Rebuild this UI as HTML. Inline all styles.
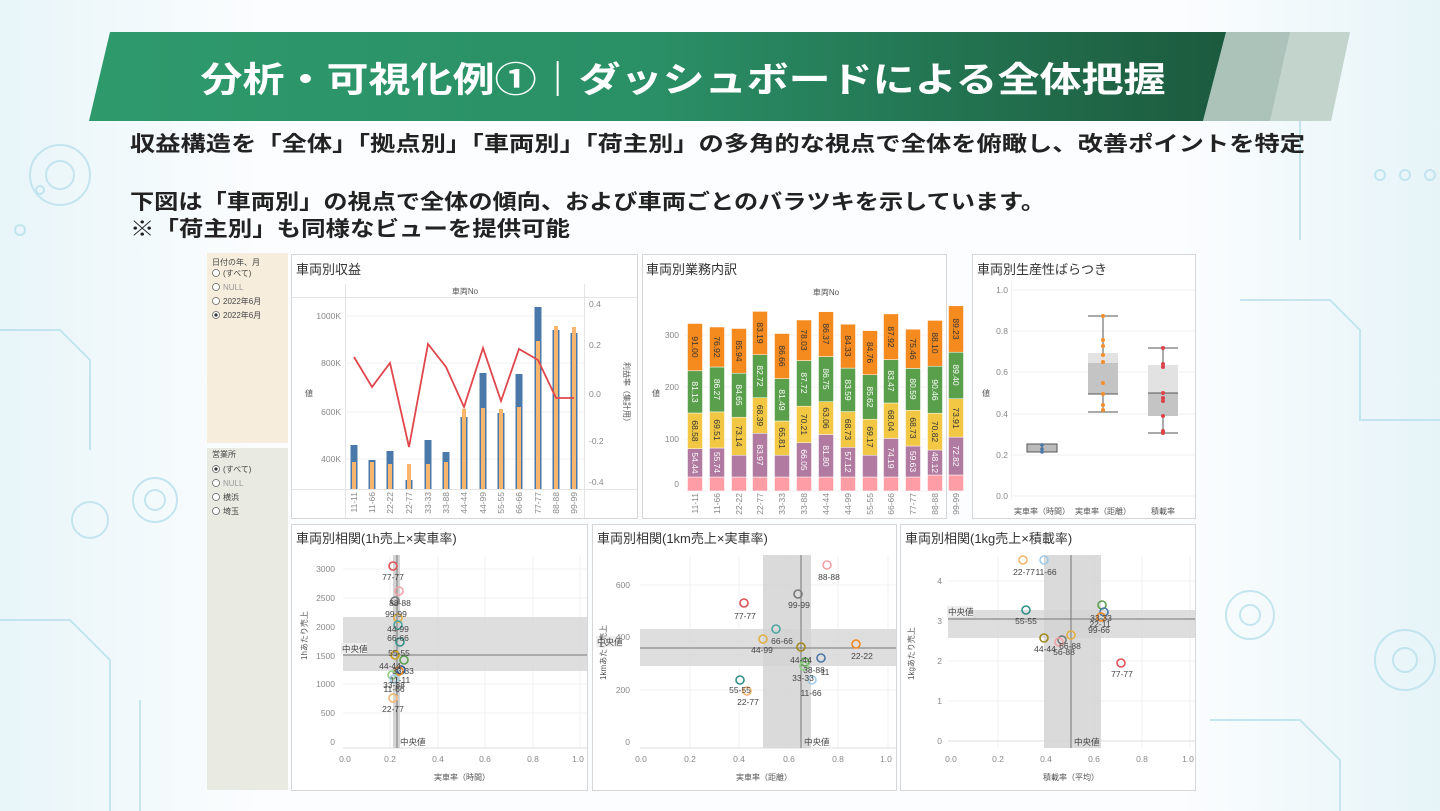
<!DOCTYPE html>
<html><head><meta charset="utf-8"><style>
html,body{margin:0;padding:0;width:1440px;height:811px;overflow:hidden;background:#fff}
svg{display:block}
text{font-family:"Liberation Sans","Noto Sans CJK JP",sans-serif}
.t{font-size:13px;fill:#333}
.tk{font-size:8.5px;fill:#888}
.sm{font-size:8px;fill:#555}
.lb{font-size:8.5px;fill:#444}
.sl{font-size:8.5px;text-anchor:middle;dominant-baseline:central}
</style></head><body>
<svg width="1440" height="811" viewBox="0 0 1440 811" xmlns="http://www.w3.org/2000/svg">
<defs>
<linearGradient id="bg" x1="0" y1="0" x2="1" y2="0">
<stop offset="0" stop-color="#e8f5f9"/><stop offset="0.18" stop-color="#fbfdfe"/><stop offset="0.82" stop-color="#fbfdfe"/><stop offset="1" stop-color="#e6f4f8"/></linearGradient>
<linearGradient id="gr" x1="0" y1="0" x2="1" y2="0">
<stop offset="0" stop-color="#2e9a6c"/><stop offset="0.5" stop-color="#2a8f66"/><stop offset="1" stop-color="#1c5a3e"/></linearGradient>
</defs>
<rect width="1440" height="811" fill="url(#bg)"/>
<g fill="none" stroke="#b9e0ec" stroke-width="2" opacity="0.8">
<circle cx="20" cy="230" r="5"/><circle cx="40" cy="190" r="4"/><circle cx="60" cy="175" r="30"/><circle cx="60" cy="175" r="14"/>
<circle cx="155" cy="500" r="22"/><circle cx="155" cy="500" r="10"/><circle cx="90" cy="520" r="18"/>
<path d="M0 330 H60 L90 360 V450 M0 620 H70 L110 660 V811 M140 700 V811"/>
<circle cx="1380" cy="175" r="5"/><circle cx="1405" cy="175" r="5"/><circle cx="1430" cy="175" r="5"/>
<circle cx="1250" cy="615" r="24"/><circle cx="1250" cy="615" r="10"/><circle cx="1405" cy="660" r="30"/><circle cx="1405" cy="660" r="12"/>
<path d="M1240 300 H1330 L1360 330 V420 H1440 M1210 720 H1300 L1340 760 V811 M1300 120 V240"/>
<circle cx="1290" cy="95" r="4"/><circle cx="1310" cy="95" r="4"/>
</g>
<!-- banner -->
<polygon points="1226,32 1350,32 1331,121 1203,121" fill="#9fb8ae" opacity="0.85"/>
<polygon points="1290,32 1350,32 1331,121 1270,121" fill="#c9d8d2" opacity="0.8"/>
<polygon points="110,32 1226,32 1203,121 89,121" fill="url(#gr)"/>
<text x="683" y="92" text-anchor="middle" font-size="35" font-weight="bold" fill="#fff" textLength="965" lengthAdjust="spacingAndGlyphs">分析・可視化例①｜ダッシュボードによる全体把握</text>
<text x="130" y="151" font-size="21" font-weight="bold" fill="#222" textLength="1175" lengthAdjust="spacingAndGlyphs">収益構造を「全体」「拠点別」「車両別」「荷主別」の多角的な視点で全体を俯瞰し、改善ポイントを特定</text>
<text x="130" y="209" font-size="21" font-weight="bold" fill="#222" textLength="915" lengthAdjust="spacingAndGlyphs">下図は「車両別」の視点で全体の傾向、および車両ごとのバラツキを示しています。</text>
<text x="130" y="236" font-size="21" font-weight="bold" fill="#222" textLength="440" lengthAdjust="spacingAndGlyphs">※「荷主別」も同様なビューを提供可能</text>

<!-- filter panels -->
<rect x="207" y="253" width="81" height="190" fill="#f6eddc"/>
<rect x="207" y="448" width="81" height="342" fill="#e9eae2"/>
<g font-size="8" fill="#444">
<text x="212" y="265">日付の年、月</text>
<circle cx="216" cy="273" r="3.5" fill="#fff" stroke="#666" stroke-width="0.8"/><text x="223" y="276">(すべて)</text>
<circle cx="216" cy="287" r="3.5" fill="#fff" stroke="#666" stroke-width="0.8"/><text x="223" y="290" fill="#999">NULL</text>
<circle cx="216" cy="301" r="3.5" fill="#fff" stroke="#666" stroke-width="0.8"/><text x="223" y="304">2022年6月</text>
<circle cx="216" cy="315" r="3.5" fill="#fff" stroke="#666" stroke-width="0.8"/><circle cx="216" cy="315" r="1.6" fill="#333"/><text x="223" y="318">2022年6月</text>
<text x="212" y="457">営業所</text>
<circle cx="216" cy="469" r="3.5" fill="#fff" stroke="#666" stroke-width="0.8"/><circle cx="216" cy="469" r="1.6" fill="#333"/><text x="223" y="472">(すべて)</text>
<circle cx="216" cy="483" r="3.5" fill="#fff" stroke="#666" stroke-width="0.8"/><text x="223" y="486" fill="#999">NULL</text>
<circle cx="216" cy="497" r="3.5" fill="#fff" stroke="#666" stroke-width="0.8"/><text x="223" y="500">横浜</text>
<circle cx="216" cy="511" r="3.5" fill="#fff" stroke="#666" stroke-width="0.8"/><text x="223" y="514">埼玉</text>
</g>

<!-- panel frames -->
<g fill="#fff" stroke="#d6d6d6">
<rect x="291.5" y="254.5" width="346" height="264"/>
<rect x="642.5" y="254.5" width="304" height="264"/>
<rect x="972.5" y="254.5" width="223" height="264"/>
<rect x="291.5" y="524.5" width="296" height="266"/>
<rect x="592.5" y="524.5" width="304" height="266"/>
<rect x="900.5" y="524.5" width="295" height="266"/>
</g>

<!-- Panel 1 -->
<text x="296" y="274" class="t">車両別収益</text>
<g stroke="#e4e4e4" stroke-width="1">
<line x1="292" y1="297.5" x2="637" y2="297.5"/><line x1="292" y1="489.5" x2="637" y2="489.5"/>
<line x1="345.5" y1="284" x2="345.5" y2="518"/><line x1="584.5" y1="284" x2="584.5" y2="518"/>
<line x1="346" y1="316" x2="584" y2="316" stroke="#f2f2f2"/><line x1="346" y1="363" x2="584" y2="363" stroke="#f2f2f2"/><line x1="346" y1="412" x2="584" y2="412" stroke="#f2f2f2"/><line x1="346" y1="459" x2="584" y2="459" stroke="#f2f2f2"/>
</g>
<text x="465" y="294" class="sm" text-anchor="middle">車両No</text>
<g class="tk" text-anchor="end"><text x="341" y="319">1000K</text><text x="341" y="366">800K</text><text x="341" y="415">600K</text><text x="341" y="462">400K</text></g>
<g class="tk"><text x="589" y="307">0.4</text><text x="589" y="348">0.2</text><text x="589" y="397">0.0</text><text x="589" y="444">-0.2</text><text x="589" y="485">-0.4</text></g>
<text x="305" y="396" class="sm">値</text>
<text transform="translate(624,362) rotate(90)" class="sm">利益率（集計用）</text>
<g fill="#4a78a8">
<rect x="350.5" y="445" width="7" height="44"/><rect x="368.5" y="460" width="7" height="29"/><rect x="386.5" y="451" width="7" height="38"/><rect x="405.5" y="480" width="7" height="9"/><rect x="424.5" y="440" width="7" height="49"/><rect x="442.5" y="452" width="7" height="37"/><rect x="460.5" y="417" width="7" height="72"/><rect x="479.5" y="373" width="7" height="116"/><rect x="497.5" y="413" width="7" height="76"/><rect x="515.5" y="374" width="7" height="115"/><rect x="534.5" y="307" width="7" height="182"/><rect x="552.5" y="330" width="7" height="159"/><rect x="570.5" y="333" width="7" height="156"/>
</g>
<g fill="#f8b56e">
<rect x="352" y="462" width="4" height="27"/><rect x="370" y="462" width="4" height="27"/><rect x="388" y="464" width="4" height="25"/><rect x="407" y="464" width="4" height="25"/><rect x="426" y="464" width="4" height="25"/><rect x="444" y="462" width="4" height="27"/><rect x="462" y="409" width="4" height="80"/><rect x="481" y="408" width="4" height="81"/><rect x="499" y="409" width="4" height="80"/><rect x="517" y="407" width="4" height="82"/><rect x="536" y="341" width="4" height="148"/><rect x="554" y="326" width="4" height="163"/><rect x="572" y="327" width="4" height="162"/>
</g>
<polyline points="354,357 372,387 390,363 409,447 428,344 446,367 464,407 483,348 501,401 519,349 538,360 556,398 574,398" fill="none" stroke="#e0474c" stroke-width="1.8"/>
<g class="tk" text-anchor="end">
<text transform="translate(357,492) rotate(-90)">11-11</text><text transform="translate(375,492) rotate(-90)">11-66</text><text transform="translate(393,492) rotate(-90)">22-22</text><text transform="translate(412,492) rotate(-90)">22-77</text><text transform="translate(431,492) rotate(-90)">33-33</text><text transform="translate(449,492) rotate(-90)">33-88</text><text transform="translate(467,492) rotate(-90)">44-44</text><text transform="translate(486,492) rotate(-90)">44-99</text><text transform="translate(504,492) rotate(-90)">55-55</text><text transform="translate(522,492) rotate(-90)">66-66</text><text transform="translate(541,492) rotate(-90)">77-77</text><text transform="translate(559,492) rotate(-90)">88-88</text><text transform="translate(577,492) rotate(-90)">99-99</text>
</g>

<!-- Panel 2 -->
<text x="646" y="274" class="t">車両別業務内訳</text>
<text x="826" y="295" class="sm" text-anchor="middle">車両No</text>
<g stroke="#f0f0f0"><line x1="684" y1="335" x2="946" y2="335"/><line x1="684" y1="387" x2="946" y2="387"/><line x1="684" y1="439" x2="946" y2="439"/><line x1="684" y1="491" x2="946" y2="491"/></g>
<g class="tk" text-anchor="end"><text x="679" y="338">300</text><text x="679" y="390">200</text><text x="679" y="442">100</text><text x="679" y="487">0</text></g>
<text x="652" y="396" class="sm">値</text>
<g stroke="#fff" stroke-width="0.5">
<g fill="#ff9da7"><rect x="687.5" y="477" width="15" height="14"/><rect x="709.5" y="477" width="15" height="14"/><rect x="731.5" y="477" width="15" height="14"/><rect x="752.5" y="477" width="15" height="14"/><rect x="774.5" y="477" width="15" height="14"/><rect x="796.5" y="477" width="15" height="14"/><rect x="818.5" y="477" width="15" height="14"/><rect x="840.5" y="477" width="15" height="14"/><rect x="862.5" y="477" width="15" height="14"/><rect x="883.5" y="477" width="15" height="14"/><rect x="905.5" y="477" width="15" height="14"/><rect x="927.5" y="475" width="15" height="16"/><rect x="948.5" y="475" width="15" height="16"/></g>
<g fill="#b07aa1"><rect x="687.5" y="448.7" width="15" height="28.3"/><rect x="709.5" y="448" width="15" height="29"/><rect x="731.5" y="455.2" width="15" height="21.8"/><rect x="752.5" y="433.3" width="15" height="43.7"/><rect x="774.5" y="455.2" width="15" height="21.8"/><rect x="796.5" y="442.7" width="15" height="34.3"/><rect x="818.5" y="434.5" width="15" height="42.5"/><rect x="840.5" y="447.3" width="15" height="29.7"/><rect x="862.5" y="455.2" width="15" height="21.8"/><rect x="883.5" y="438.4" width="15" height="38.6"/><rect x="905.5" y="446" width="15" height="31"/><rect x="927.5" y="450" width="15" height="25"/><rect x="948.5" y="437.1" width="15" height="37.9"/></g>
<g fill="#f1c744"><rect x="687.5" y="413" width="15" height="35.7"/><rect x="709.5" y="411.9" width="15" height="36.1"/><rect x="731.5" y="417.2" width="15" height="38"/><rect x="752.5" y="397.7" width="15" height="35.6"/><rect x="774.5" y="421" width="15" height="34.2"/><rect x="796.5" y="406.2" width="15" height="36.5"/><rect x="818.5" y="401.7" width="15" height="32.8"/><rect x="840.5" y="411.6" width="15" height="35.7"/><rect x="862.5" y="419.2" width="15" height="36"/><rect x="883.5" y="403" width="15" height="35.4"/><rect x="905.5" y="410.3" width="15" height="35.7"/><rect x="927.5" y="413.2" width="15" height="36.8"/><rect x="948.5" y="398.7" width="15" height="38.4"/></g>
<g fill="#5aa04c"><rect x="687.5" y="370.8" width="15" height="42.2"/><rect x="709.5" y="367" width="15" height="44.9"/><rect x="731.5" y="373.2" width="15" height="44"/><rect x="752.5" y="354.7" width="15" height="43"/><rect x="774.5" y="378.6" width="15" height="42.4"/><rect x="796.5" y="360.6" width="15" height="45.6"/><rect x="818.5" y="356.6" width="15" height="45.1"/><rect x="840.5" y="368.1" width="15" height="43.5"/><rect x="862.5" y="374.7" width="15" height="44.5"/><rect x="883.5" y="359.6" width="15" height="43.4"/><rect x="905.5" y="368.4" width="15" height="41.9"/><rect x="927.5" y="366.2" width="15" height="47"/><rect x="948.5" y="352.2" width="15" height="46.5"/></g>
<g fill="#f58a1f"><rect x="687.5" y="323.5" width="15" height="47.3"/><rect x="709.5" y="327" width="15" height="40"/><rect x="731.5" y="328.5" width="15" height="44.7"/><rect x="752.5" y="311.4" width="15" height="43.3"/><rect x="774.5" y="333.5" width="15" height="45.1"/><rect x="796.5" y="320" width="15" height="40.6"/><rect x="818.5" y="311.7" width="15" height="44.9"/><rect x="840.5" y="324.2" width="15" height="43.9"/><rect x="862.5" y="330.6" width="15" height="44.1"/><rect x="883.5" y="313.9" width="15" height="45.7"/><rect x="905.5" y="329.2" width="15" height="39.2"/><rect x="927.5" y="320.4" width="15" height="45.8"/><rect x="948.5" y="305.8" width="15" height="46.4"/></g>
</g>
<g class="sl" fill="#fff">
<text transform="translate(695,463) rotate(90)">54.44</text><text transform="translate(717,462.5) rotate(90)">55.74</text><text transform="translate(760,455) rotate(90)">83.97</text><text transform="translate(804,460) rotate(90)">66.05</text><text transform="translate(826,456) rotate(90)">81.80</text><text transform="translate(848,462) rotate(90)">57.12</text><text transform="translate(891,458) rotate(90)">74.19</text><text transform="translate(913,461.5) rotate(90)">59.63</text><text transform="translate(935,462.5) rotate(90)">48.12</text><text transform="translate(956,456) rotate(90)">72.82</text>
<text transform="translate(695,392) rotate(90)">81.13</text><text transform="translate(717,389.5) rotate(90)">86.27</text><text transform="translate(739,395) rotate(90)">84.65</text><text transform="translate(760,376) rotate(90)">82.72</text><text transform="translate(782,400) rotate(90)">81.49</text><text transform="translate(804,383) rotate(90)">87.72</text><text transform="translate(826,379) rotate(90)">86.75</text><text transform="translate(848,390) rotate(90)">83.59</text><text transform="translate(870,397) rotate(90)">85.62</text><text transform="translate(891,381) rotate(90)">83.47</text><text transform="translate(913,389) rotate(90)">80.59</text><text transform="translate(935,390) rotate(90)">90.46</text><text transform="translate(956,375) rotate(90)">89.40</text>
</g>
<g class="sl" fill="#333">
<text transform="translate(695,431) rotate(90)">68.58</text><text transform="translate(717,430) rotate(90)">69.51</text><text transform="translate(739,436) rotate(90)">73.14</text><text transform="translate(760,415.5) rotate(90)">68.39</text><text transform="translate(782,438) rotate(90)">65.81</text><text transform="translate(804,424.5) rotate(90)">70.21</text><text transform="translate(826,418) rotate(90)">63.06</text><text transform="translate(848,429.5) rotate(90)">68.73</text><text transform="translate(870,437) rotate(90)">69.17</text><text transform="translate(891,420.7) rotate(90)">68.04</text><text transform="translate(913,428) rotate(90)">68.73</text><text transform="translate(935,431.6) rotate(90)">70.82</text><text transform="translate(956,418) rotate(90)">73.91</text>
<text transform="translate(695,347) rotate(90)">91.00</text><text transform="translate(717,347) rotate(90)">76.92</text><text transform="translate(739,351) rotate(90)">85.94</text><text transform="translate(760,333) rotate(90)">83.19</text><text transform="translate(782,356) rotate(90)">86.66</text><text transform="translate(804,340) rotate(90)">78.03</text><text transform="translate(826,334) rotate(90)">86.37</text><text transform="translate(848,346) rotate(90)">84.33</text><text transform="translate(870,352.6) rotate(90)">84.76</text><text transform="translate(891,337) rotate(90)">87.92</text><text transform="translate(913,349) rotate(90)">75.46</text><text transform="translate(935,343) rotate(90)">88.10</text><text transform="translate(956,329) rotate(90)">89.23</text>
</g>
<g class="tk" text-anchor="end">
<text transform="translate(698,493) rotate(-90)">11-11</text><text transform="translate(720,493) rotate(-90)">11-66</text><text transform="translate(742,493) rotate(-90)">22-22</text><text transform="translate(763,493) rotate(-90)">22-77</text><text transform="translate(785,493) rotate(-90)">33-33</text><text transform="translate(807,493) rotate(-90)">33-88</text><text transform="translate(829,493) rotate(-90)">44-44</text><text transform="translate(851,493) rotate(-90)">44-99</text><text transform="translate(873,493) rotate(-90)">55-55</text><text transform="translate(894,493) rotate(-90)">66-66</text><text transform="translate(916,493) rotate(-90)">77-77</text><text transform="translate(938,493) rotate(-90)">88-88</text><text transform="translate(959,493) rotate(-90)">99-99</text>
</g>

<!-- Panel 3 -->
<text x="977" y="274" class="t">車両別生産性ばらつき</text>
<g stroke="#f0f0f0"><line x1="1011" y1="290" x2="1195" y2="290"/><line x1="1011" y1="331" x2="1195" y2="331"/><line x1="1011" y1="372" x2="1195" y2="372"/><line x1="1011" y1="414" x2="1195" y2="414"/><line x1="1011" y1="455" x2="1195" y2="455"/><line x1="1011" y1="496" x2="1195" y2="496"/><line x1="1011.5" y1="282" x2="1011.5" y2="500"/></g>
<g class="tk" text-anchor="end"><text x="1008" y="293">1.0</text><text x="1008" y="334">0.8</text><text x="1008" y="375">0.6</text><text x="1008" y="417">0.4</text><text x="1008" y="458">0.2</text><text x="1008" y="499">0.0</text></g>
<text x="982" y="396" class="sm">値</text>
<g stroke="#555" stroke-width="1">
<rect x="1027" y="444" width="30" height="8" fill="#bbb"/><line x1="1042" y1="443" x2="1042" y2="453"/>
<line x1="1103" y1="316" x2="1103" y2="412"/>
<rect x="1088" y="353" width="30" height="10" fill="#e2e2e2" stroke="none"/><rect x="1088" y="363" width="30" height="31" fill="#c4c4c4" stroke="none"/>
<line x1="1088" y1="316" x2="1118" y2="316"/><line x1="1088" y1="412" x2="1118" y2="412"/><line x1="1088" y1="394" x2="1118" y2="394"/>
<line x1="1163" y1="348" x2="1163" y2="433"/>
<rect x="1148" y="365" width="30" height="28" fill="#e2e2e2" stroke="none"/><rect x="1148" y="393" width="30" height="23" fill="#c4c4c4" stroke="none"/>
<line x1="1148" y1="348" x2="1178" y2="348"/><line x1="1148" y1="433" x2="1178" y2="433"/><line x1="1148" y1="393" x2="1178" y2="393"/>
</g>
<g fill="#4a78a8"><circle cx="1042" cy="445" r="1.8"/><circle cx="1042" cy="449" r="1.8"/><circle cx="1042" cy="452" r="1.8"/></g>
<g fill="#f28e2b"><circle cx="1103" cy="316" r="2"/><circle cx="1103" cy="340" r="2"/><circle cx="1103" cy="346" r="2"/><circle cx="1103" cy="355" r="2"/><circle cx="1103" cy="362" r="2"/><circle cx="1103" cy="383" r="2"/><circle cx="1103" cy="394" r="2"/><circle cx="1103" cy="405" r="2"/><circle cx="1103" cy="410" r="2"/></g>
<g fill="#d9434a"><circle cx="1163" cy="348" r="2"/><circle cx="1163" cy="364" r="2"/><circle cx="1163" cy="367" r="2"/><circle cx="1163" cy="393" r="2"/><circle cx="1163" cy="398" r="2"/><circle cx="1163" cy="401" r="2"/><circle cx="1163" cy="416" r="2"/><circle cx="1163" cy="431" r="2"/><circle cx="1163" cy="433" r="2"/></g>
<g class="sm" text-anchor="middle" font-size="7.5"><text x="1042" y="514">実車率（時間）</text><text x="1103" y="514">実車率（距離）</text><text x="1163" y="514">積載率</text></g>

<!-- Panel A -->
<text x="296" y="543" class="t">車両別相関(1h売上×実車率)</text>
<g stroke="#f0f0f0"><line x1="343" y1="569" x2="587" y2="569"/><line x1="343" y1="598" x2="587" y2="598"/><line x1="343" y1="627" x2="587" y2="627"/><line x1="343" y1="656" x2="587" y2="656"/><line x1="343" y1="684" x2="587" y2="684"/><line x1="343" y1="713" x2="587" y2="713"/><line x1="390" y1="555" x2="390" y2="748"/><line x1="438" y1="555" x2="438" y2="748"/><line x1="485" y1="555" x2="485" y2="748"/><line x1="533" y1="555" x2="533" y2="748"/><line x1="580" y1="555" x2="580" y2="748"/><line x1="343" y1="748" x2="587" y2="748" stroke="#ddd"/></g>
<rect x="343" y="617" width="244" height="54" fill="#d8d8d8" opacity="0.85"/>
<rect x="393" y="555" width="7" height="193" fill="#cfcfcf" opacity="0.9"/>
<line x1="343" y1="655" x2="587" y2="655" stroke="#777"/><line x1="397" y1="555" x2="397" y2="748" stroke="#777"/>
<rect x="341" y="643" width="26" height="11" fill="#eee"/><text x="342" y="652" class="lb">中央値</text>
<text x="400" y="745" class="lb">中央値</text>
<g class="tk" text-anchor="end"><text x="335" y="572">3000</text><text x="335" y="601">2500</text><text x="335" y="630">2000</text><text x="335" y="659">1500</text><text x="335" y="687">1000</text><text x="335" y="716">500</text><text x="335" y="745">0</text></g>
<g class="tk" text-anchor="middle"><text x="345" y="762">0.0</text><text x="390" y="762">0.2</text><text x="438" y="762">0.4</text><text x="485" y="762">0.6</text><text x="533" y="762">0.8</text><text x="578" y="762">1.0</text></g>
<text x="462" y="780" class="sm" text-anchor="middle">実車率（時間）</text>
<text transform="translate(307,660) rotate(-90)" class="sm">1hあたり売上</text>
<g fill="none" stroke-width="1.6">
<circle cx="393" cy="566" r="4" stroke="#e05257"/><circle cx="399" cy="591" r="4" stroke="#f4a0a5"/><circle cx="395" cy="601" r="4" stroke="#777"/><circle cx="398" cy="618" r="4" stroke="#e0b040"/><circle cx="398" cy="625" r="4" stroke="#4aa6a0"/><circle cx="400" cy="642" r="4" stroke="#2f8f88"/><circle cx="395" cy="655" r="4" stroke="#c9a11c"/><circle cx="404" cy="660" r="4" stroke="#5aa04c"/><circle cx="401" cy="670" r="4" stroke="#2f5c9a"/><circle cx="399" cy="671" r="4" stroke="#f08a20"/><circle cx="392" cy="675" r="4" stroke="#8fcf84"/><circle cx="394" cy="679" r="4" stroke="#9fcbe6"/><circle cx="393" cy="698" r="4" stroke="#f8b56e"/>
</g>
<g class="lb" text-anchor="middle"><text x="393" y="580">77-77</text><text x="400" y="606">88-88</text><text x="396" y="617">99-99</text><text x="398" y="632">44-99</text><text x="398" y="641">66-66</text><text x="399" y="656">55-55</text><text x="390" y="669">44-44</text><text x="403" y="674">33-33</text><text x="400" y="683">11-11</text><text x="394" y="688">33-88</text><text x="394" y="692">11-66</text><text x="393" y="712">22-77</text></g>

<!-- Panel B -->
<text x="597" y="543" class="t">車両別相関(1km売上×実車率)</text>
<g stroke="#f0f0f0"><line x1="640" y1="585" x2="896" y2="585"/><line x1="640" y1="637" x2="896" y2="637"/><line x1="640" y1="690" x2="896" y2="690"/><line x1="690" y1="555" x2="690" y2="748"/><line x1="739" y1="555" x2="739" y2="748"/><line x1="789" y1="555" x2="789" y2="748"/><line x1="838" y1="555" x2="838" y2="748"/><line x1="888" y1="555" x2="888" y2="748"/><line x1="640" y1="748" x2="896" y2="748" stroke="#ddd"/></g>
<rect x="640" y="629" width="256" height="37" fill="#d8d8d8" opacity="0.85"/>
<rect x="763" y="555" width="48" height="193" fill="#d3d3d3" opacity="0.85"/>
<line x1="640" y1="648" x2="896" y2="648" stroke="#777"/><line x1="801" y1="555" x2="801" y2="748" stroke="#777"/>
<rect x="596" y="636" width="26" height="11" fill="#eee"/><text x="597" y="645" class="lb">中央値</text>
<text x="804" y="745" class="lb">中央値</text>
<g class="tk" text-anchor="end"><text x="630" y="588">600</text><text x="630" y="640">400</text><text x="630" y="693">200</text><text x="630" y="745">0</text></g>
<g class="tk" text-anchor="middle"><text x="641" y="762">0.0</text><text x="690" y="762">0.2</text><text x="739" y="762">0.4</text><text x="789" y="762">0.6</text><text x="838" y="762">0.8</text><text x="886" y="762">1.0</text></g>
<text x="764" y="780" class="sm" text-anchor="middle">実車率（距離）</text>
<text transform="translate(606,680) rotate(-90)" class="sm">1kmあたり売上</text>
<g fill="none" stroke-width="1.6">
<circle cx="827" cy="565" r="4" stroke="#f4a0a5"/><circle cx="798" cy="594" r="4" stroke="#777"/><circle cx="744" cy="603" r="4" stroke="#e05257"/><circle cx="776" cy="629" r="4" stroke="#4aa6a0"/><circle cx="763" cy="639" r="4" stroke="#e0b040"/><circle cx="801" cy="647" r="4" stroke="#a08a1c"/><circle cx="856" cy="644" r="4" stroke="#f08a20"/><circle cx="821" cy="658" r="4" stroke="#4a78a8"/><circle cx="805" cy="662" r="4" stroke="#5aa04c"/><circle cx="804" cy="666" r="4" stroke="#8fcf84"/><circle cx="812" cy="680" r="4" stroke="#9fcbe6"/><circle cx="740" cy="680" r="4" stroke="#2f8f88"/><circle cx="747" cy="691" r="4" stroke="#f8b56e"/>
</g>
<g class="lb" text-anchor="middle"><text x="829" y="580">88-88</text><text x="799" y="608">99-99</text><text x="745" y="619">77-77</text><text x="782" y="644">66-66</text><text x="762" y="653">44-99</text><text x="801" y="663">44-44</text><text x="862" y="659">22-22</text><text x="814" y="673">38-88</text><text x="825" y="675">11</text><text x="803" y="681">33-33</text><text x="811" y="696">11-66</text><text x="740" y="693">55-55</text><text x="748" y="705">22-77</text></g>

<!-- Panel C -->
<text x="905" y="543" class="t">車両別相関(1kg売上×積載率)</text>
<g stroke="#f0f0f0"><line x1="948" y1="581" x2="1195" y2="581"/><line x1="948" y1="621" x2="1195" y2="621"/><line x1="948" y1="661" x2="1195" y2="661"/><line x1="948" y1="701" x2="1195" y2="701"/><line x1="998" y1="555" x2="998" y2="748"/><line x1="1046" y1="555" x2="1046" y2="748"/><line x1="1094" y1="555" x2="1094" y2="748"/><line x1="1142" y1="555" x2="1142" y2="748"/><line x1="1190" y1="555" x2="1190" y2="748"/><line x1="948" y1="741" x2="1195" y2="741" stroke="#ddd"/></g>
<rect x="948" y="610" width="247" height="28" fill="#d8d8d8" opacity="0.85"/>
<rect x="1044" y="555" width="57" height="193" fill="#d3d3d3" opacity="0.85"/>
<line x1="948" y1="619" x2="1195" y2="619" stroke="#777"/><line x1="1071" y1="555" x2="1071" y2="748" stroke="#777"/>
<rect x="947" y="606" width="26" height="11" fill="#eee"/><text x="948" y="615" class="lb">中央値</text>
<text x="1074" y="745" class="lb">中央値</text>
<g class="tk" text-anchor="end"><text x="942" y="584">4</text><text x="942" y="624">3</text><text x="942" y="664">2</text><text x="942" y="704">1</text><text x="942" y="744">0</text></g>
<g class="tk" text-anchor="middle"><text x="951" y="762">0.0</text><text x="998" y="762">0.2</text><text x="1046" y="762">0.4</text><text x="1094" y="762">0.6</text><text x="1142" y="762">0.8</text><text x="1188" y="762">1.0</text></g>
<text x="1071" y="780" class="sm" text-anchor="middle">積載率（平均）</text>
<text transform="translate(914,680) rotate(-90)" class="sm">1kgあたり売上</text>
<g fill="none" stroke-width="1.6">
<circle cx="1023" cy="560" r="4" stroke="#f8b56e"/><circle cx="1044" cy="560" r="4" stroke="#9fcbe6"/><circle cx="1026" cy="610" r="4" stroke="#2f8f88"/><circle cx="1102" cy="605" r="4" stroke="#5aa04c"/><circle cx="1104" cy="612" r="4" stroke="#4a78a8"/><circle cx="1101" cy="617" r="4" stroke="#f08a20"/><circle cx="1044" cy="638" r="4" stroke="#a08a1c"/><circle cx="1062" cy="640" r="4" stroke="#777"/><circle cx="1059" cy="642" r="4" stroke="#f4a0a5"/><circle cx="1071" cy="635" r="4" stroke="#e0b040"/><circle cx="1121" cy="663" r="4" stroke="#e05257"/>
</g>
<g class="lb" text-anchor="middle"><text x="1024" y="575">22-77</text><text x="1046" y="575">11-66</text><text x="1026" y="624">55-55</text><text x="1101" y="621">33-33</text><text x="1100" y="627">22-11</text><text x="1099" y="633">99-66</text><text x="1045" y="652">44-44</text><text x="1070" y="649">66-88</text><text x="1064" y="655">56-88</text><text x="1122" y="677">77-77</text></g>
</svg>
</body></html>
